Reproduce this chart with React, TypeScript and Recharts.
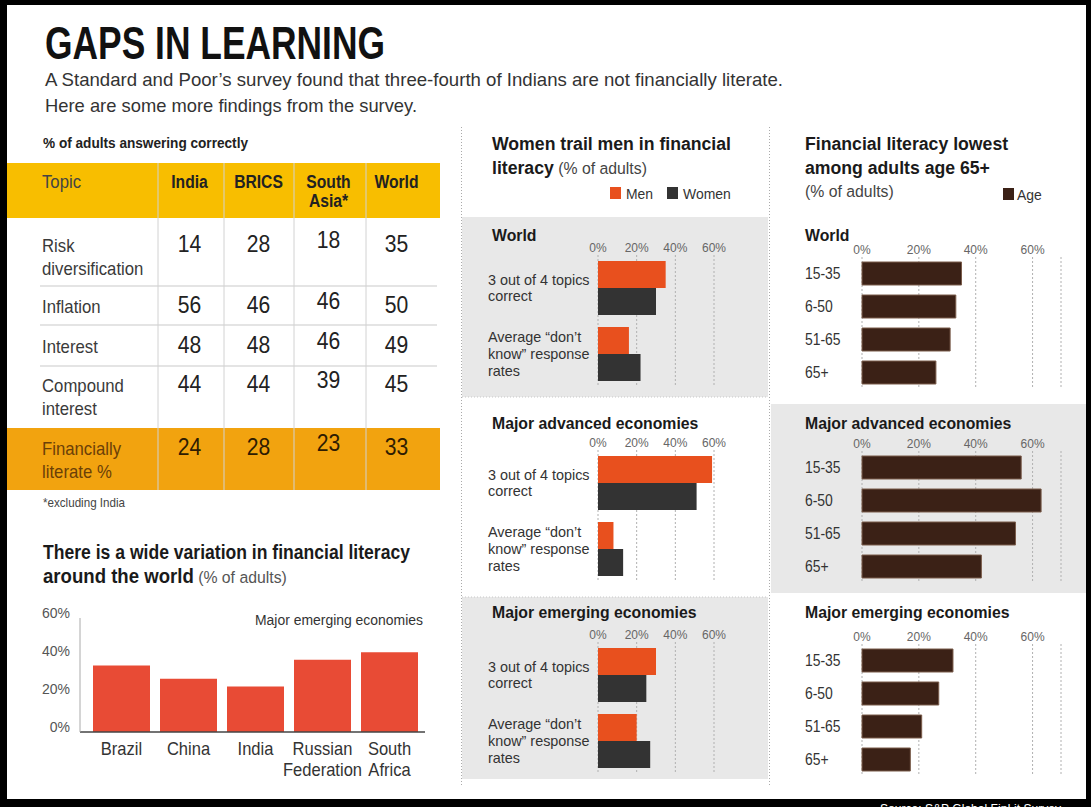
import React from 'react';
import { Bar, BarChart, CartesianGrid, XAxis, YAxis } from 'recharts';

const FONT = '"Liberation Sans", Arial, sans-serif';

// table: % of adults answering correctly
const tableColumns = ['India', 'BRICS', 'South\nAsia*', 'World'];
const tableTopics = [
    'Risk\ndiversification',
    'Inflation',
    'Interest',
    'Compound\ninterest',
    'Financially\nliterate %',
];
const indiaScores = [14, 56, 48, 44, 24];
const bricsScores = [28, 46, 48, 44, 28];
const southAsiaScores = [18, 46, 46, 39, 23];
const worldScores = [35, 50, 49, 45, 33];

// wide variation around the world
const countries = ['Brazil', 'China', 'India', 'Russian\nFederation', 'South\nAfrica'];
const countryLiterate = [35, 28, 24, 38, 42];
const countryTicks = [0, 20, 40, 60];

// women trail men
const genderTopics = ['3 out of 4 topics\ncorrect', 'Average “don’t\nknow” response\nrates'];
const worldMen = [35, 16];
const worldWomen = [30, 22];
const advancedMen = [59, 8];
const advancedWomen = [51, 13];
const emergingMen = [30, 20];
const emergingWomen = [25, 27];

// lowest among 65+
const ageGroups = ['15-35', '6-50', '51-65', '65+'];
const worldAge = [35, 33, 31, 26];
const advancedAge = [56, 63, 54, 42];
const emergingAge = [32, 27, 21, 17];

const pctTicks = [0, 20, 40, 60];

const MEN = '#e8501e';
const WOMEN = '#333333';
const AGE = '#3b2116';

// text squeezed a bit, the original face is a condensed one
const T = ({ x, y, size, weight = 'normal', fill = '#333', anchor = 'start', len, sx = 0.93, children }: any) =>
    len ? (
        <text
            x={x}
            y={y}
            fontSize={size}
            fontWeight={weight}
            fill={fill}
            textAnchor={anchor}
            fontFamily={FONT}
            textLength={len}
            lengthAdjust="spacingAndGlyphs"
        >
            {children}
        </text>
    ) : (
        <text
            transform={`translate(${x},${y}) scale(${sx},1)`}
            fontSize={size}
            fontWeight={weight}
            fill={fill}
            textAnchor={anchor}
            fontFamily={FONT}
        >
            {children}
        </text>
    );

const GenderTick = ({ y, payload }: any) => {
    const lines = String(payload.value).split('\n');
    const y0 = y - ((lines.length - 1) * 17) / 2 + 5;
    return (
        <g transform={`translate(26,${y0}) scale(0.96,1)`}>
            <text fontSize={15} fill="#333" fontFamily={FONT}>
                {lines.map((l, i) => (
                    <tspan key={i} x={0} y={i * 17}>
                        {l}
                    </tspan>
                ))}
            </text>
        </g>
    );
};

const AgeTick = ({ y, payload }: any) => (
    <text transform={`translate(33,${y + 5}) scale(0.87,1)`} fontSize={16} fill="#333" fontFamily={FONT}>
        {payload.value}
    </text>
);

const CountryTick = ({ x, y, payload }: any) => {
    const lines = String(payload.value).split('\n');
    return (
        <g transform={`translate(${x},${y + 23}) scale(0.92,1)`}>
            <text fontSize={18} fill="#333" fontFamily={FONT} textAnchor="middle">
                {lines.map((l, i) => (
                    <tspan key={i} x={0} y={i * 21}>
                        {l}
                    </tspan>
                ))}
            </text>
        </g>
    );
};

const PctTick = ({ x, y, payload }: any) => (
    <text x={x} y={y - 5} dy="0.35em" fontSize={14} fill="#555" fontFamily={FONT} textAnchor="end">
        {payload.value}%
    </text>
);

const axisTick = { fontSize: 12, fill: '#666', fontFamily: FONT };

const GenderChart = ({ top, men, women }: { top: number; men: number[]; women: number[] }) => {
    const data = genderTopics.map((topic, i) => ({ topic, men: men[i], women: women[i] }));
    return (
        <div style={{ position: 'absolute', left: 462, top }}>
            <BarChart
                width={280}
                height={156}
                data={data}
                layout="vertical"
                margin={{ top: 0, right: 28, bottom: 0, left: 0 }}
                barGap={0}
            >
                <CartesianGrid horizontal={false} stroke="#b0b0b0" strokeDasharray="2 2" />
                <XAxis
                    type="number"
                    orientation="top"
                    domain={[0, 60]}
                    ticks={pctTicks}
                    interval={0}
                    tickFormatter={(v) => `${v}%`}
                    axisLine={false}
                    tickLine={false}
                    tickSize={0}
                    tickMargin={3}
                    height={24}
                    tick={axisTick}
                />
                <YAxis
                    type="category"
                    dataKey="topic"
                    width={136}
                    axisLine={false}
                    tickLine={false}
                    interval={0}
                    tick={<GenderTick />}
                />
                <Bar dataKey="men" fill={MEN} barSize={27} isAnimationActive={false} />
                <Bar dataKey="women" fill={WOMEN} barSize={27} isAnimationActive={false} />
            </BarChart>
        </div>
    );
};

const AgeChart = ({ top, values }: { top: number; values: number[] }) => {
    const data = ageGroups.map((group, i) => ({ group, value: values[i] }));
    return (
        <div style={{ position: 'absolute', left: 772, top }}>
            <BarChart
                width={301}
                height={156}
                data={data}
                layout="vertical"
                margin={{ top: 0, right: 12, bottom: 0, left: 0 }}
            >
                <CartesianGrid horizontal={false} stroke="#b0b0b0" strokeDasharray="2 2" />
                <XAxis
                    type="number"
                    orientation="top"
                    domain={[0, 70]}
                    ticks={pctTicks}
                    interval={0}
                    tickFormatter={(v) => `${v}%`}
                    axisLine={false}
                    tickLine={false}
                    tickSize={0}
                    tickMargin={3}
                    height={24}
                    tick={axisTick}
                />
                <YAxis
                    type="category"
                    dataKey="group"
                    width={90}
                    axisLine={false}
                    tickLine={false}
                    interval={0}
                    tick={<AgeTick />}
                />
                <Bar
                    dataKey="value"
                    fill={AGE}
                    stroke="#7a5c4b"
                    strokeWidth={1}
                    barSize={23}
                    isAnimationActive={false}
                />
            </BarChart>
        </div>
    );
};

const CountryChart = () => {
    const data = countries.map((country, i) => ({ country, value: countryLiterate[i] }));
    return (
        <div style={{ position: 'absolute', left: 30, top: 600 }}>
            <BarChart width={405} height={182} data={data} margin={{ top: 18, right: 10, bottom: 0, left: 0 }}>
                <XAxis
                    dataKey="country"
                    interval={0}
                    height={50}
                    padding={{ left: 8, right: 2 }}
                    axisLine={{ stroke: '#444', strokeWidth: 1.5 }}
                    tickLine={false}
                    tickSize={0}
                    tickMargin={0}
                    tick={<CountryTick />}
                />
                <YAxis
                    domain={[0, 60]}
                    ticks={countryTicks}
                    interval={0}
                    width={50}
                    axisLine={{ stroke: '#aaa' }}
                    tickLine={false}
                    tickSize={0}
                    tickMargin={10}
                    tick={<PctTick />}
                />
                <Bar dataKey="value" fill="#e84b35" barSize={57} isAnimationActive={false} />
            </BarChart>
        </div>
    );
};

const Table = () => {
    const colCenters = [189.5, 258.5, 328.5, 396.5];
    const colDividers = [158, 224, 294, 366];
    const colDy = [0, 0, -4, 0];
    const rowLines = [286, 325, 366];
    const rowBaselines = [252, 313, 353, 392, 455];
    const columns = [indiaScores, bricsScores, southAsiaScores, worldScores];
    const last = tableTopics.length - 1;
    return (
        <g>
            <rect x={7} y={163} width={433} height={55} fill="#f8be00" />
            <rect x={7} y={428} width={433} height={62} fill="#f2a30f" />
            {rowLines.map((y) => (
                <line key={y} x1={40} x2={437} y1={y} y2={y} stroke="#c9c9c9" />
            ))}
            {colDividers.map((x) => (
                <line key={x} x1={x} x2={x} y1={163} y2={490} stroke="#d2d2d2" />
            ))}
            <T x={42} y={188} size={18} fill="#444">Topic</T>
            {tableColumns.map((c, i) =>
                c.split('\n').map((l, j) => (
                    <T key={c + j} x={colCenters[i]} y={188 + j * 19} size={18} weight="bold" fill="#222" anchor="middle" sx={0.87}>
                        {l}
                    </T>
                ))
            )}
            {tableTopics.map((t, r) =>
                t.split('\n').map((l, j) => (
                    <T key={t + j} x={42} y={rowBaselines[r] + j * 23} size={18} fill={r === last ? '#6b4008' : '#3a3a3a'}>
                        {l}
                    </T>
                ))
            )}
            {columns.map((vals, c) =>
                vals.map((v, r) => (
                    <T
                        key={`${c}-${r}`}
                        x={colCenters[c]}
                        y={rowBaselines[r] + colDy[c]}
                        size={24}
                        fill={r === last ? '#2e1c02' : '#222'}
                        anchor="middle"
                        sx={0.88}
                    >
                        {v}
                    </T>
                ))
            )}
            <T x={43} y={507} size={12.5} fill="#444">*excluding India</T>
        </g>
    );
};

export default function App() {
    return (
        <div style={{ position: 'relative', width: 1091, height: 807, overflow: 'hidden', background: '#000' }}>
            <style>{'body{margin:0}'}</style>
            <svg width={1091} height={807} style={{ position: 'absolute', left: 0, top: 0 }}>
                <rect x={7} y={5} width={1079} height={794} fill="#fff" />

                <T x={45} y={59} size={46} weight="bold" fill="#111" len={340}>GAPS IN LEARNING</T>
                <T x={45} y={86} size={19} len={738}>
                    A Standard and Poor’s survey found that three-fourth of Indians are not financially literate.
                </T>
                <T x={45} y={112} size={19} len={372}>Here are some more findings from the survey.</T>

                <T x={43} y={148} size={14} weight="bold" fill="#222" len={205}>% of adults answering correctly</T>
                <Table />

                <T x={43} y={559} size={20} weight="bold" fill="#1a1a1a" len={367}>
                    There is a wide variation in financial literacy
                </T>
                <text transform="translate(43,583) scale(0.93,1)" fontSize={20} fontFamily={FONT} fill="#1a1a1a">
                    <tspan fontWeight="bold">around the world</tspan>
                    <tspan fill="#555" fontSize={17}> (% of adults)</tspan>
                </text>
                <T x={423} y={625} size={15} anchor="end">Major emerging economies</T>

                {/* middle column */}
                <rect x={462} y={217} width={306} height={180} fill="#e8e8e8" />
                <rect x={462} y={597} width={306} height={182} fill="#e8e8e8" />
                <line x1={462} x2={768} y1={397} y2={397} stroke="#c8c8c8" strokeDasharray="1 2" />
                <line x1={462} x2={768} y1={597} y2={597} stroke="#c8c8c8" strokeDasharray="1 2" />
                <line x1={461.5} x2={461.5} y1={127} y2={785} stroke="#aaa" strokeDasharray="1 2" />
                <line x1={769.5} x2={769.5} y1={127} y2={785} stroke="#aaa" strokeDasharray="1 2" />

                <T x={492} y={150} size={19} weight="bold" fill="#1a1a1a">Women trail men in financial</T>
                <text transform="translate(492,174) scale(0.93,1)" fontSize={19} fontFamily={FONT} fill="#1a1a1a">
                    <tspan fontWeight="bold">literacy</tspan>
                    <tspan fill="#444" fontSize={17}> (% of adults)</tspan>
                </text>
                <rect x={610} y={187} width={11} height={12} fill={MEN} />
                <T x={626} y={199} size={15}>Men</T>
                <rect x={667} y={187} width={11} height={12} fill={WOMEN} />
                <T x={683} y={199} size={15}>Women</T>

                <T x={492} y={241} size={17} weight="bold" fill="#1a1a1a">World</T>
                <T x={492} y={429} size={17} weight="bold" fill="#1a1a1a">Major advanced economies</T>
                <T x={492} y={618} size={17} weight="bold" fill="#1a1a1a">Major emerging economies</T>

                {/* right column */}
                <rect x={771} y={404} width={315} height={189} fill="#e8e8e8" />
                <T x={805} y={150} size={19} weight="bold" fill="#1a1a1a">Financial literacy lowest</T>
                <T x={805} y={174} size={19} weight="bold" fill="#1a1a1a">among adults age 65+</T>
                <T x={805} y={197} size={17} fill="#444">(% of adults)</T>
                <rect x={1003} y={188} width={11} height={12} fill={AGE} />
                <T x={1017} y={200} size={15}>Age</T>

                <T x={805} y={241} size={17} weight="bold" fill="#1a1a1a">World</T>
                <T x={805} y={429} size={17} weight="bold" fill="#1a1a1a">Major advanced economies</T>
                <T x={805} y={618} size={17} weight="bold" fill="#1a1a1a">Major emerging economies</T>

                <T x={880} y={813} size={13} fill="#fff">Source: S&amp;P Global FinLit Survey</T>
            </svg>

            <CountryChart />

            <GenderChart top={231} men={worldMen} women={worldWomen} />
            <GenderChart top={426} men={advancedMen} women={advancedWomen} />
            <GenderChart top={618} men={emergingMen} women={emergingWomen} />

            <AgeChart top={233} values={worldAge} />
            <AgeChart top={427} values={advancedAge} />
            <AgeChart top={620} values={emergingAge} />
        </div>
    );
}
